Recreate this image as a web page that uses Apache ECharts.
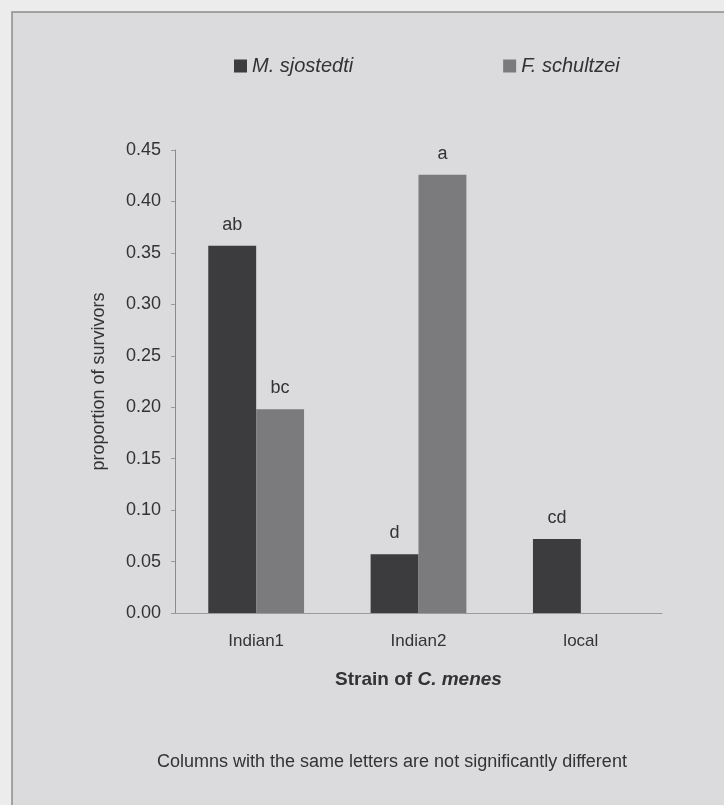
<!DOCTYPE html>
<html>
<head>
<meta charset="utf-8">
<script src="https://cdn.jsdelivr.net/npm/echarts@6/dist/echarts.min.js"></script>
<style>
  html, body { margin: 0; padding: 0; background: #ececec; }
  #chart { width: 724px; height: 805px; }
</style>
</head>
<body>
<div id="chart"></div>
<script>
// Survival of two thrips species on three strains of C. menes
const strains = ['Indian1', 'Indian2', 'local'];
const sjostedti = [0.357, 0.057, 0.072];
const schultzei = [0.198, 0.426, 0];
const sjostedtiLetters = ['ab', 'd', 'cd'];
const schultzeiLetters = ['bc', 'a', ''];
const yTicks = { min: 0, max: 0.45, step: 0.05 };

const chart = echarts.init(document.getElementById('chart'), null, { renderer: 'canvas' });

const textColor = '#333';
const font = 'Liberation Sans, Arial, sans-serif';

function letterLabel(letters) {
  return {
    show: true,
    position: 'top',
    distance: 12,
    color: textColor,
    fontFamily: font,
    fontSize: 18,
    formatter: p => letters[p.dataIndex]
  };
}

chart.setOption({
  backgroundColor: '#ececec',
  animation: false,
  textStyle: { fontFamily: font },
  graphic: [
    {
      type: 'rect',
      z: -10,
      shape: { x: 12, y: 12, width: 740, height: 820 },
      style: { fill: '#dbdadc', stroke: '#8c8c8c', lineWidth: 1.5 }
    },
    {
      type: 'text',
      left: 157,
      top: 753,
      style: {
        text: 'Columns with the same letters are not significantly different',
        fill: textColor,
        font: '18px ' + font
      }
    }
  ],
  legend: {
    top: 51,
    left: 229,
    itemGap: 150,
    itemWidth: 13,
    itemHeight: 13,
    icon: 'rect',
    textStyle: { color: textColor, fontSize: 20, fontStyle: 'italic', fontFamily: font },
    data: ['M. sjostedti', 'F. schultzei']
  },
  grid: { left: 175, right: 62, top: 150, bottom: 192 },
  xAxis: {
    type: 'category',
    data: strains,
    axisLine: { lineStyle: { color: '#9a9a9a', width: 1 } },
    axisTick: { show: false },
    axisLabel: { color: textColor, fontSize: 17, margin: 20, fontFamily: font },
    name: '{b|Strain of }{i|C. menes}',
    nameLocation: 'middle',
    nameGap: 57,
    nameTextStyle: {
      rich: {
        b: { fontWeight: 'bold', fontSize: 19, color: textColor, fontFamily: font },
        i: { fontWeight: 'bold', fontStyle: 'italic', fontSize: 19, color: textColor, fontFamily: font }
      }
    }
  },
  yAxis: {
    type: 'value',
    min: yTicks.min,
    max: yTicks.max,
    interval: yTicks.step,
    splitLine: { show: false },
    axisLine: { show: true, lineStyle: { color: '#8a8a8a', width: 1 } },
    axisTick: { show: true, length: 4, lineStyle: { color: '#9a9a9a' } },
    axisLabel: {
      color: textColor, fontSize: 18, margin: 14, fontFamily: font,
      formatter: v => v.toFixed(2)
    },
    name: 'proportion of survivors',
    nameLocation: 'middle',
    nameGap: 67,
    nameTextStyle: { color: textColor, fontSize: 18, fontFamily: font }
  },
  series: [
    {
      name: 'M. sjostedti',
      type: 'bar',
      data: sjostedti,
      barGap: '0%',
      barCategoryGap: '41%',
      itemStyle: { color: '#3c3b3d' },
      label: letterLabel(sjostedtiLetters)
    },
    {
      name: 'F. schultzei',
      type: 'bar',
      data: schultzei,
      itemStyle: { color: '#7b7a7c' },
      label: letterLabel(schultzeiLetters)
    }
  ]
});
</script>
</body>
</html>
